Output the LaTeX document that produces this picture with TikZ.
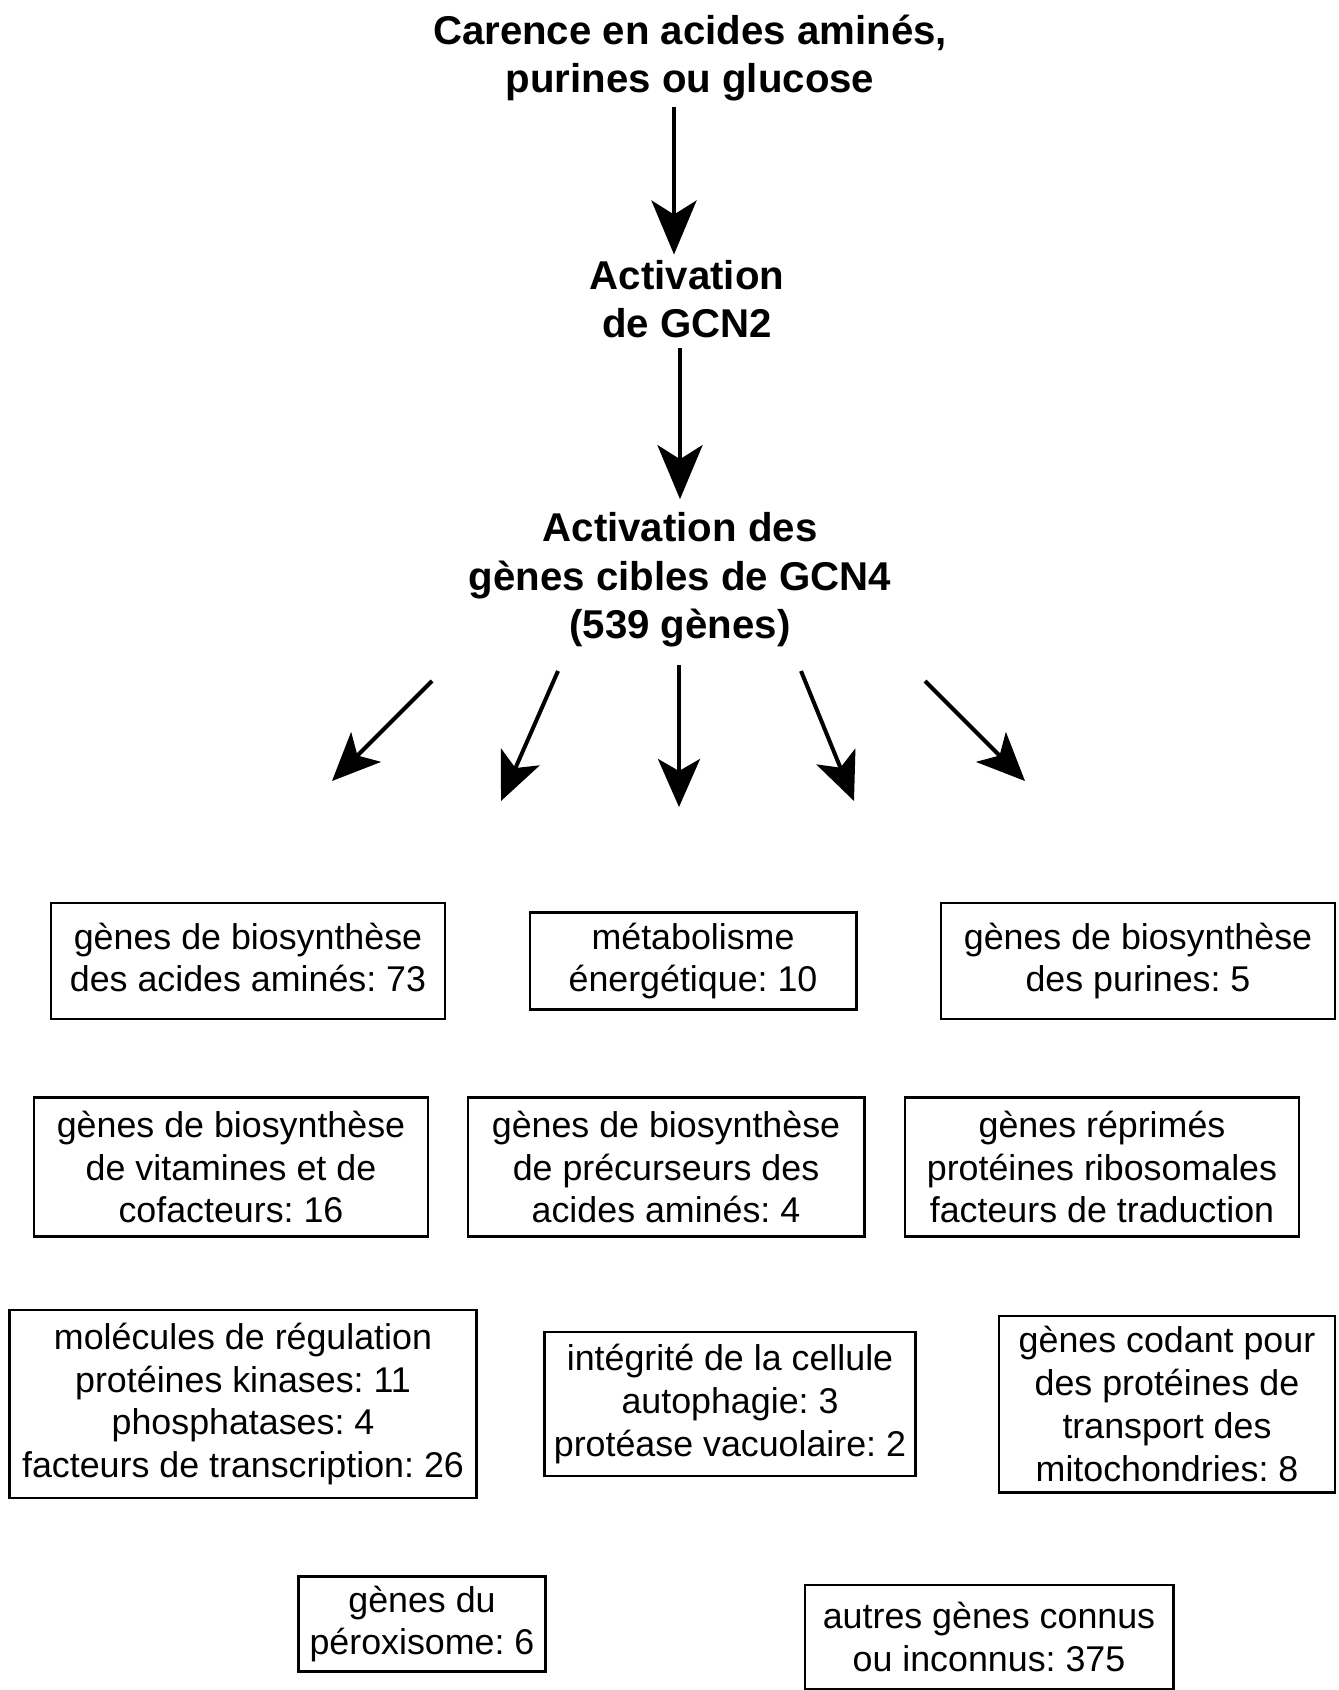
\documentclass[tikz,border=0pt]{standalone}
\usepackage{fontspec}
\setmainfont{Liberation Sans}
\usetikzlibrary{arrows.meta}
\frenchspacing

\begin{document}
\begin{tikzpicture}[
    x=0.5pt, y=-0.5pt,
    title/.style={align=center, inner sep=2pt, font=\fontsize{20.1}{24.3}\selectfont\bfseries},
    box/.style={draw, rectangle, line width=1.1pt, align=center, inner sep=0pt, font=\fontsize{17.9}{21.4}\selectfont},
    arr/.style={-{Stealth[length=27pt, width=22.5pt, inset=7pt]}, line width=2.2pt},
    fan/.style={-{Stealth[length=24pt, width=21pt, inset=6pt]}, line width=2pt}
]
\useasboundingbox (0,0) rectangle (1338,1690);

% Nodes
\node[title] (carence) at (690,58) {Carence en acides aminés,\\purines ou glucose};
\node[title] (gcn2) at (687,299) {Activation\\de GCN2};
\node[title] (gcn4) at (680,580) {Activation des\\gènes cibles de GCN4\\(539 gènes)};

\node[box, minimum width=197.3pt, minimum height=58.3pt] (aa) at (248,961) {gènes de biosynthèse\\des acides aminés: 73\vphantom{p}};
\node[box, minimum width=163.4pt, minimum height=48.5pt] (energie) at (693,961) {métabolisme\\énergétique: 10};
\node[box, minimum width=196.8pt, minimum height=58.3pt] (purines) at (1138,961) {gènes de biosynthèse\\des purines: 5};

\node[box, minimum width=197.3pt, minimum height=69.5pt] (vitamines) at (231,1167) {gènes de biosynthèse\\de vitamines et de\\cofacteurs: 16};
\node[box, minimum width=198.4pt, minimum height=69.5pt] (precurseurs) at (666,1167) {gènes de biosynthèse\\de précurseurs des\\acides aminés: 4};
\node[box, minimum width=196.8pt, minimum height=69.5pt] (reprimes) at (1102,1167) {gènes réprimés\\protéines ribosomales\\facteurs de traduction};

\node[box, minimum width=233.5pt, minimum height=93.8pt] (regulation) at (243,1404) {molécules de régulation\\protéines kinases: 11\\phosphatases: 4\\facteurs de transcription: 26};
\node[box, minimum width=185.5pt, minimum height=72.3pt] (cellule) at (730,1404) {intégrité de la cellule\\autophagie: 3\\protéase vacuolaire: 2};
\node[box, minimum width=167.7pt, minimum height=88.4pt] (mito) at (1167,1404) {gènes codant pour\\des protéines de\\transport des\\mitochondries: 8};

\node[box, minimum width=123.5pt, minimum height=47.5pt] (peroxisome) at (422,1624) {gènes du\\péroxisome: 6};
\node[box, minimum width=184.4pt, minimum height=51.8pt] (autres) at (989,1637) {autres gènes connus\\ou inconnus: 375};

% Arrows
\draw[arr] ([xshift=-8pt, yshift=-0.5pt]carence.south) -- ([xshift=-6.5pt, yshift=0.5pt]gcn2.north);
\draw[arr] ([xshift=-3.5pt, yshift=-3pt]gcn2.south) -- ([yshift=4.5pt]gcn4.north);

% Fan of arrows below GCN4
\foreach \i/\sx/\sy/\ex/\ey in {1/432/681/332/781, 2/558/671/501/801, 3/679/665/679/807, 4/801/671/854/801, 5/925/681/1025/781} {
    \coordinate (fs\i) at (\sx,\sy);
    \coordinate (fe\i) at (\ex,\ey);
    \draw[fan] (fs\i) -- (fe\i);
}
\end{tikzpicture}
\end{document}
